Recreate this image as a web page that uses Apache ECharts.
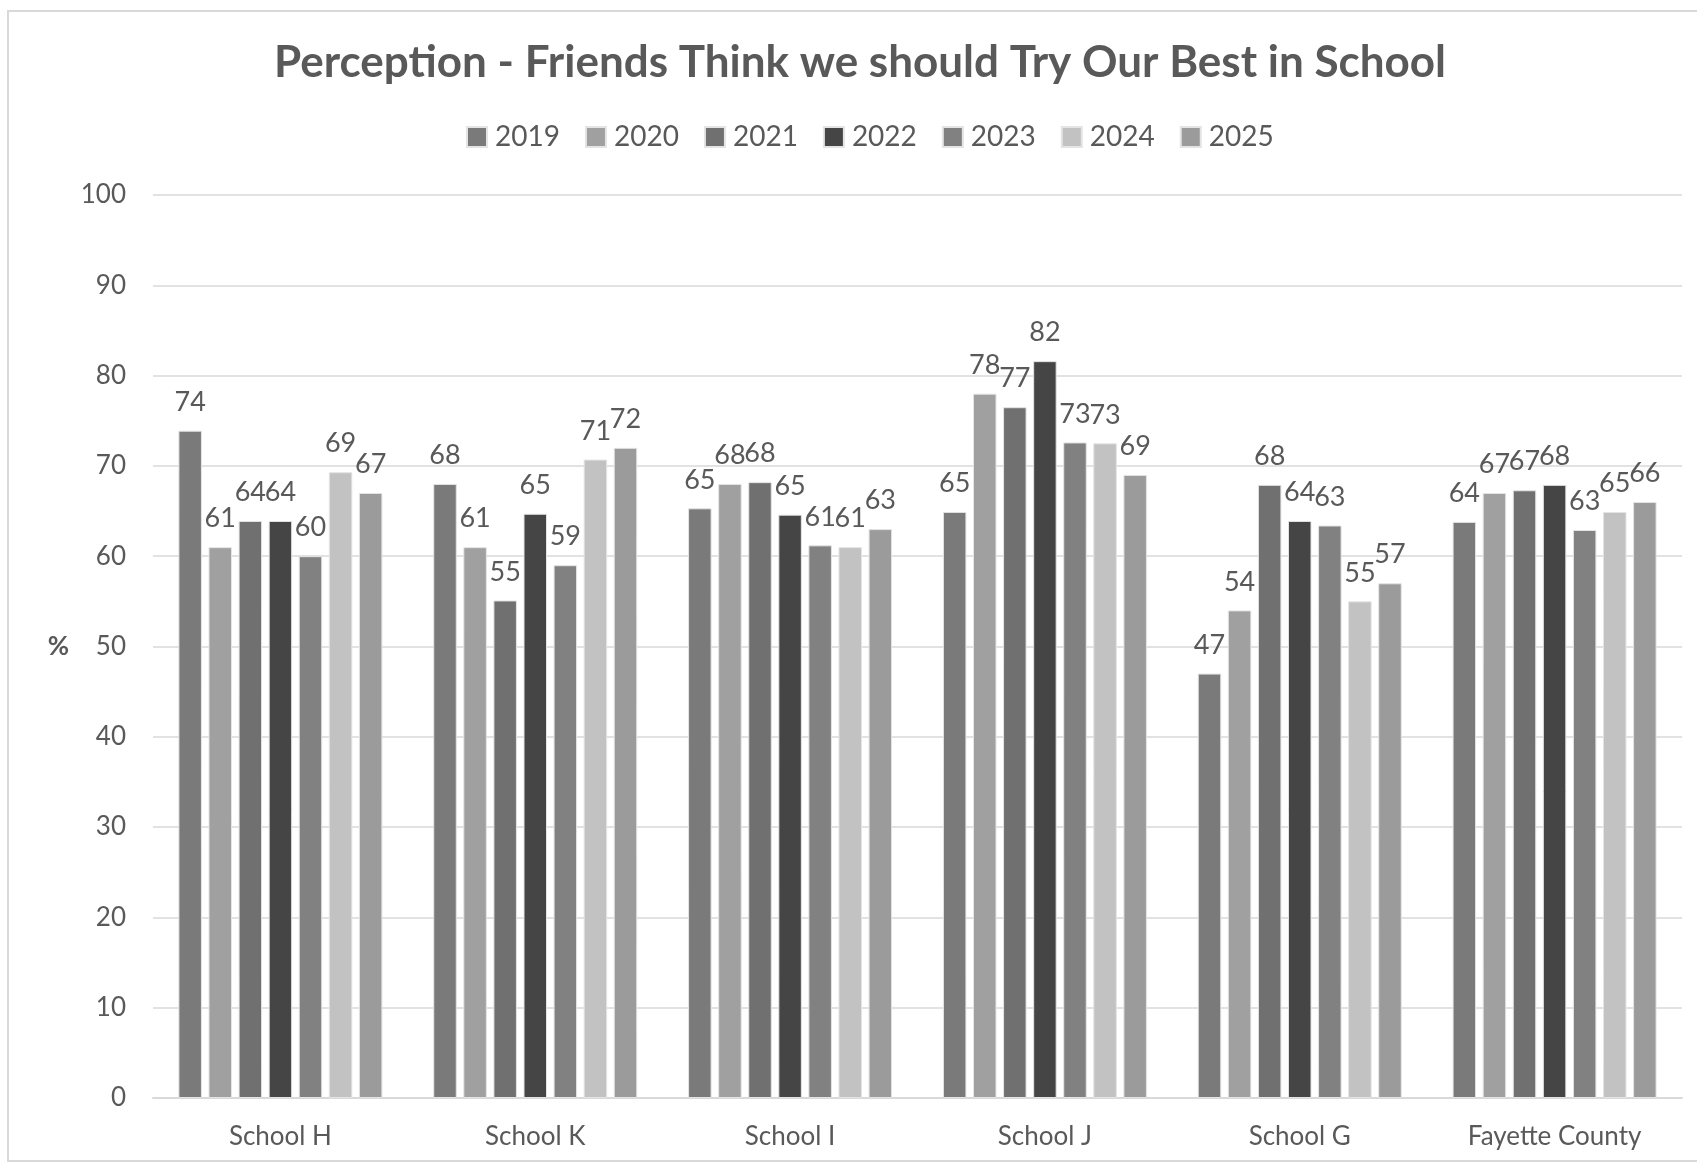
<!DOCTYPE html>
<html>
<head>
<meta charset="utf-8">
<script src="https://cdn.jsdelivr.net/npm/echarts@6/dist/echarts.min.js"></script>
<style>
  html, body { margin: 0; padding: 0; background: #fff; }
  #main { width: 1697px; height: 1164px; }
</style>
</head>
<body>
<div id="main"></div>
<script>
const schools = ['School H', 'School K', 'School I', 'School J', 'School G', 'Fayette County'];
const years = ['2019', '2020', '2021', '2022', '2023', '2024', '2025'];

// one array per year, values per school (labels show rounded numbers)
const y2019 = [73.9, 68.0, 65.3, 64.9, 47.0, 63.8];
const y2020 = [61.0, 61.0, 68.0, 78.0, 54.0, 67.0];
const y2021 = [63.9, 55.1, 68.2, 76.5, 67.9, 67.3];
const y2022 = [63.9, 64.7, 64.6, 81.6, 63.9, 67.9];
const y2023 = [60.0, 59.0, 61.2, 72.6, 63.4, 62.9];
const y2024 = [69.3, 70.7, 61.0, 72.5, 55.0, 64.9];
const y2025 = [67.0, 72.0, 63.0, 69.0, 57.0, 66.0];

const yearValues = [y2019, y2020, y2021, y2022, y2023, y2024, y2025];
const colors = ['#7a7a7a', '#a0a0a0', '#707070', '#454545', '#818181', '#c2c2c2', '#9b9b9b'];

const textColor = '#595959';
const font = 'Lato';

const chart = echarts.init(document.getElementById('main'));

const series = years.map((yr, i) => ({
  name: yr,
  type: 'bar',
  data: yearValues[i],
  barWidth: 23.5,
  barGap: '28%',
  itemStyle: { color: colors[i], borderColor: '#e4e4e4', borderWidth: 1 },
  label: {
    show: true,
    position: 'top',
    distance: 15,
    color: textColor,
    fontFamily: font,
    fontSize: 27,
    formatter: p => Math.round(p.value)
  }
}));

const option = {
  animation: false,
  color: colors,
  title: {
    text: 'Perception - Friends Think we should Try Our Best in School',
    left: 855,
    textAlign: 'center',
    top: 36,
    textStyle: { color: textColor, fontFamily: font, fontWeight: 'bold', fontSize: 44 }
  },
  legend: {
    top: 118,
    left: 461,
    itemWidth: 20,
    itemHeight: 20,
    itemGap: 25,
    icon: 'rect',
    textStyle: { color: textColor, fontFamily: font, fontSize: 28, padding: [0, 0, 0, 3] }
  },
  graphic: [{
    type: 'rect',
    shape: { x: 8, y: 11, width: 1700, height: 1150 },
    style: { fill: 'none', stroke: '#d9d9d9', lineWidth: 2 },
    silent: true
  }],
  grid: { left: 153, right: 15, top: 195, bottom: 66 },
  xAxis: {
    type: 'category',
    data: schools,
    axisTick: { show: false },
    axisLine: { lineStyle: { color: '#d9d9d9', width: 2 } },
    axisLabel: { color: textColor, fontFamily: font, fontSize: 26, margin: 26 }
  },
  yAxis: {
    type: 'value',
    min: 0,
    max: 100,
    interval: 10,
    name: '%',
    nameLocation: 'middle',
    nameRotate: 0,
    nameGap: 84,
    nameTextStyle: { color: textColor, fontFamily: font, fontSize: 26, fontWeight: 'bold' },
    axisLine: { show: false },
    axisTick: { show: false },
    axisLabel: { color: textColor, fontFamily: font, fontSize: 26, margin: 27 },
    splitLine: { lineStyle: { color: '#d9d9d9', width: 1.5 } }
  },
  series: series
};

chart.setOption(option);
</script>
</body>
</html>
